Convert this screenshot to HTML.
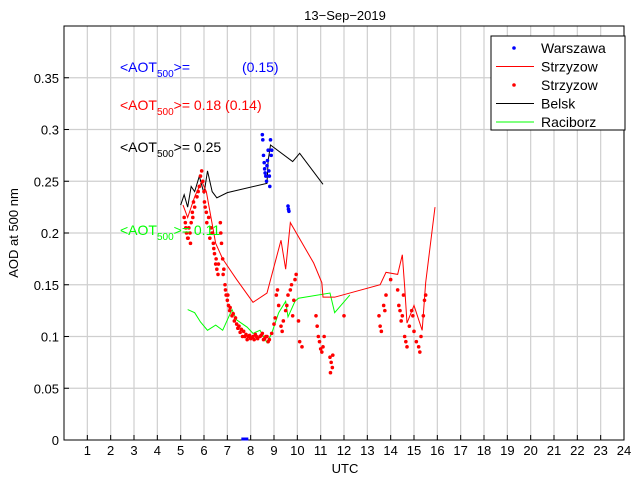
<!DOCTYPE html>
<html><head><meta charset="utf-8"><style>
body{margin:0;background:#fff;}
svg{display:block;font-family:"Liberation Sans",sans-serif;}
</style></head><body>
<svg id="chart" width="640" height="480">
<text x="345" y="20" font-size="13" text-anchor="middle">13−Sep−2019</text>
<text x="345" y="473" font-size="13" text-anchor="middle">UTC</text>
<text transform="translate(18,233) rotate(-90)" font-size="13" text-anchor="middle">AOD at 500 nm</text>
</svg>
<script>
const xTicks=[1,2,3,4,5,6,7,8,9,10,11,12,13,14,15,16,17,18,19,20,21,22,23,24];
const yTicks=[0,0.05,0.1,0.15,0.2,0.25,0.3,0.35];
const yTickLabels=["0","0.05","0.1","0.15","0.2","0.25","0.3","0.35"];
const belskX=[5.0,5.15,5.3,5.45,5.6,5.8,6.0,6.15,6.35,6.55,7.0,8.7,8.75,8.85,9.8,10.1,11.1];
const belskY=[0.227,0.237,0.225,0.245,0.24,0.255,0.238,0.26,0.24,0.234,0.239,0.248,0.27,0.285,0.269,0.277,0.247];
const strzLineX=[5.1,5.3,5.6,5.9,6.1,6.3,6.5,6.8,7.1,7.4,8.1,8.7,9.3,9.5,9.7,10.7,11.05,11.1,11.6,13.55,13.8,14.3,14.5,14.6,14.7,15.0,15.35,15.5,15.9];
const strzLineY=[0.227,0.215,0.235,0.25,0.24,0.215,0.19,0.175,0.165,0.155,0.133,0.142,0.193,0.165,0.21,0.171,0.152,0.138,0.138,0.15,0.162,0.16,0.179,0.148,0.113,0.13,0.106,0.152,0.225];
const racX=[5.3,5.6,5.85,6.15,6.5,6.8,7.2,7.4,7.85,8.1,8.4,8.7,8.9,9.2,9.5,9.6,9.9,10.05,11.4,11.6,12.25];
const racY=[0.126,0.123,0.114,0.106,0.111,0.106,0.126,0.116,0.109,0.103,0.106,0.094,0.103,0.123,0.134,0.119,0.134,0.137,0.142,0.123,0.14];
const strzDotX=[5.15,5.2,5.25,5.3,5.35,5.4,5.45,5.5,5.55,5.6,5.7,5.8,5.9,5.95,6.0,6.05,6.1,6.2,6.3,6.35,6.4,6.45,6.5,6.55,6.6,6.7,6.75,6.8,6.85,6.9,6.95,7.0,7.05,7.1,7.2,7.3,7.4,7.5,7.6,7.7,7.8,7.9,8.0,8.1,8.2,8.3,8.4,8.5,8.6,8.7,8.8,8.9,9.0,9.05,9.1,9.15,9.2,9.3,9.35,9.4,9.5,9.55,9.6,9.7,9.75,9.8,9.85,9.9,9.95,10.05,10.1,10.2,10.8,10.85,10.9,10.95,11.0,11.05,11.1,11.15,11.4,11.45,11.5,11.42,11.52,12.0,13.5,13.55,13.6,13.7,13.75,13.8,14.0,14.3,14.35,14.4,14.45,14.5,14.55,14.6,14.65,14.7,14.8,14.9,14.95,15.0,15.1,15.2,15.25,15.3,15.4,15.45,15.5,5.22,5.32,5.42,5.52,5.75,5.85,6.02,6.12,6.25,6.42,6.52,6.62,6.72,6.82,6.92,7.02,7.12,7.25,7.35,7.45,7.55,7.65,7.75,7.85,7.95,8.05,8.15,8.25,8.45,8.55,8.65,8.75];
const strzDotY=[0.215,0.21,0.2,0.195,0.205,0.2,0.21,0.22,0.23,0.225,0.235,0.245,0.26,0.25,0.24,0.225,0.22,0.215,0.205,0.2,0.19,0.18,0.17,0.165,0.16,0.21,0.19,0.175,0.165,0.15,0.14,0.135,0.13,0.125,0.12,0.115,0.112,0.11,0.107,0.105,0.102,0.1,0.098,0.1,0.102,0.098,0.1,0.103,0.098,0.1,0.097,0.103,0.112,0.118,0.14,0.145,0.13,0.11,0.105,0.115,0.125,0.13,0.14,0.145,0.15,0.12,0.135,0.155,0.16,0.115,0.095,0.09,0.12,0.11,0.1,0.095,0.088,0.085,0.09,0.1,0.08,0.075,0.07,0.065,0.082,0.12,0.12,0.11,0.105,0.13,0.125,0.14,0.155,0.145,0.13,0.125,0.115,0.12,0.14,0.1,0.095,0.09,0.11,0.125,0.12,0.105,0.095,0.09,0.085,0.1,0.12,0.135,0.14,0.205,0.195,0.19,0.215,0.24,0.255,0.23,0.21,0.195,0.185,0.175,0.17,0.2,0.16,0.145,0.14,0.128,0.122,0.118,0.108,0.104,0.1,0.1,0.097,0.101,0.099,0.097,0.1,0.101,0.097,0.1,0.095];
const warX=[8.5,8.52,8.55,8.58,8.6,8.62,8.65,8.68,8.7,8.72,8.75,8.78,8.8,8.82,8.85,8.88,8.9,9.6,9.62,9.64];
const warY=[0.295,0.29,0.275,0.268,0.262,0.258,0.255,0.25,0.265,0.27,0.28,0.26,0.255,0.245,0.29,0.275,0.28,0.226,0.223,0.221];
const warZeroX=[7.6,7.7,7.8,7.9];

const NS="http://www.w3.org/2000/svg";
const svg=document.getElementById('chart');
const X0=64,X1=624,Y0=440,Y1=26;
const sx=v=>X0+(v-0)/(24-0)*(X1-X0);
const sy=v=>Y0-(v-0)/(0.4-0)*(Y0-Y1);
function mk(tag,attrs,parent){const e=document.createElementNS(NS,tag);for(const k in attrs)e.setAttribute(k,attrs[k]);(parent||svg).appendChild(e);return e;}

const grid=mk('g',{});


xTicks.forEach(t=>{const l=mk('line',{x1:sx(t),x2:sx(t),y1:Y1,y2:Y0,stroke:'#cfcfcf','stroke-width':1.2},grid);

});
yTicks.forEach(t=>{if(t===0)return;const l=mk('line',{x1:X0,x2:X1,y1:sy(t),y2:sy(t),stroke:'#cfcfcf','stroke-width':1.2},grid);

});

const frame=mk('rect',{x:X0,y:Y1,width:X1-X0,height:Y0-Y1,fill:'none',stroke:'#000','stroke-width':1});



xTicks.forEach(t=>{mk('line',{x1:sx(t),x2:sx(t),y1:Y0,y2:Y0-5,stroke:'#000'});
const tx=mk('text',{x:sx(t),y:Y0+15,'font-size':13,'text-anchor':'middle'});tx.textContent=t;

});
yTicks.forEach((t,i)=>{mk('line',{x1:X0,x2:X0+5,y1:sy(t),y2:sy(t),stroke:'#000'});
const tx=mk('text',{x:X0-5,y:sy(t)+5,'font-size':13,'text-anchor':'end'});tx.textContent=yTickLabels[i];

});

function line(xs,ys,color,name){const p=mk('polyline',{points:xs.map((x,i)=>sx(x)+','+sy(ys[i])).join(' '),fill:'none',stroke:color,'stroke-width':1});

}
function dots(xs,ys,color,name){const g=mk('g',{fill:color});


xs.forEach((x,i)=>mk('circle',{cx:sx(x),cy:sy(ys[i]),r:1.8},g));}

line(racX,racY,'#00ff00','raciborz-line');
line(belskX,belskY,'#000','belsk-line');
line(strzLineX,strzLineY,'#ff0000','strzyzow-line');
dots(strzDotX,strzDotY,'#ff0000','strzyzow-dots');
dots(warX,warY,'#0000ff','warszawa-dots');
const wz=mk('line',{x1:sx(warZeroX[0]),x2:sx(warZeroX[warZeroX.length-1]),y1:Y0-1,y2:Y0-1,stroke:'#0000ff','stroke-width':3});



const ann=[["#0000ff","","(0.15)",72],["#ff0000","= 0.18 (0.14)","",110],["#000","= 0.25","",152],["#00ff00","= 0.11","",235]];
ann.forEach((a,i)=>{const t=mk('text',{x:120,y:a[3],fill:a[0],'font-size':14});


t.innerHTML='&lt;AOT<tspan font-size="10" dy="5">500</tspan><tspan dy="-5">&gt;'+(i===0?'=':a[1])+'</tspan>';
if(a[2]){const t2=mk('text',{x:242,y:a[3],fill:a[0],'font-size':14});t2.textContent=a[2];

}});

const lg=mk('g',{});


mk('rect',{x:491,y:36,width:134,height:94,fill:'#fff',stroke:'#000'},lg);
const entries=[["Warszawa","#0000ff","dot"],["Strzyzow","#ff0000","line"],["Strzyzow","#ff0000","dot"],["Belsk","#000","line"],["Raciborz","#00ff00","line"]];
entries.forEach((e,i)=>{const y=48+i*18.5;const g=mk('g',{},lg);


if(e[2]==='line')mk('line',{x1:496,x2:534,y1:y,y2:y,stroke:e[1]},g);
else mk('circle',{cx:514,cy:y,r:1.8,fill:e[1]},g);
const t=mk('text',{x:541,y:y+5,'font-size':14},g);t.textContent=e[0];});
</script>
</body></html>
